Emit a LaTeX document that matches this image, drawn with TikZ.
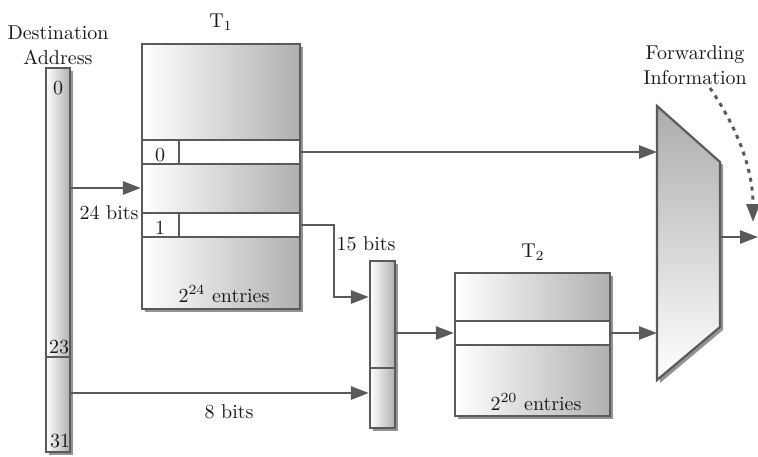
\documentclass[tikz,border=0pt]{standalone}
\usetikzlibrary{arrows.meta,shadows}
\definecolor{lc}{HTML}{5A5A5A}
\begin{document}
\begin{tikzpicture}[x=0.5pt,y=-0.5pt,
  arr/.style={lc, line width=1.3pt, -{Triangle[length=9pt,width=6.5pt]}},
  tbl/.style={draw=lc, line width=1.1pt, inner sep=0pt, left color=white, right color=gray!62,
    drop shadow={shadow xshift=1.6pt, shadow yshift=-1.6pt, fill=gray!85, opacity=1}},
  rowbox/.style={draw=lc, line width=1.1pt, fill=white, inner sep=0pt},
  lbl/.style={font=\fontsize{10}{12.5}\selectfont, inner sep=0pt, text=black!90, align=center},
]
\useasboundingbox (0,0) rectangle (758,456);

% Destination address bar
\node[tbl, minimum width=12pt, minimum height=192pt] (addr) at (58,260) {};
\draw[lc, line width=1.1pt] (addr.west |- 0,357) -- (addr.east |- 0,357);
\node[lbl] (dst) at (58,45) {Destination\\Address};
\node[lbl] (a0) at (58,88) {0};
\node[lbl] (a23) at (59,347) {23};
\node[lbl] (a31) at (60,441) {31};

% Table T1
\node[tbl, minimum width=79pt, minimum height=132.5pt] (T1) at (221,176.5) {};
\node[rowbox, minimum width=79pt, minimum height=12pt] (r0) at (221,152) {};
\node[rowbox, minimum width=79pt, minimum height=12pt] (r1) at (221,225) {};
\draw[lc, line width=1.1pt] (179,140) -- (179,164);
\draw[lc, line width=1.1pt] (179,213) -- (179,237);
\node[lbl] (l0) at (160,155) {0};
\node[lbl] (l1) at (160,228) {1};
\node[lbl] (t1lab) at (221,22) {$\mathrm{T}_1$};
\node[lbl] (t1ent) at (224,294) {$2^{24}$ entries};

% Small concatenation bar
\node[tbl, minimum width=12.5pt, minimum height=83.5pt] (sb) at (382.5,344.5) {};
\draw[lc, line width=1.1pt] (sb.west |- 0,368) -- (sb.east |- 0,368);

% Table T2
\node[tbl, minimum width=77.5pt, minimum height=71.5pt] (T2) at (532.5,344.5) {};
\node[rowbox, minimum width=77.5pt, minimum height=12pt] (r2) at (532.5,333) {};
\node[lbl] (t2lab) at (533,252) {$\mathrm{T}_2$};
\node[lbl] (t2ent) at (536,402) {$2^{20}$ entries};

% Multiplexer
\fill[gray!85] (660,109) -- (723,165) -- (723,330) -- (660,383) -- cycle;
\path[draw=lc, line width=1.1pt, top color=gray!65, bottom color=white]
  (657,106) -- (720,162) -- (720,327) -- (657,380) -- cycle;
\coordinate (m1) at (657,152);
\coordinate (m2) at (657,333);
\coordinate (mo) at (720,237);
\coordinate (fo) at (758,237);
\coordinate (fi) at (753,222);

\node[lbl] (fwd) at (695,65) {Forwarding\\Information};

% Connectors
\draw[arr] (addr.east |- 0,188) -- (T1.west |- 0,188);
\node[lbl] (b24) at (109,213) {24 bits};
\draw[arr] (r0.east) -- (m1);
\draw[arr] (r1.east) -- (334,225) -- (334,297) -- (sb.west |- 0,297);
\node[lbl] (b15) at (366,244) {15 bits};
\draw[arr] (addr.east |- 0,393) -- (sb.west |- 0,393);
\node[lbl] (b8) at (229,412) {8 bits};
\draw[arr] (sb.east |- r2.west) -- (r2.west);
\draw[arr] (r2.east) -- (m2);
\draw[arr] (mo) -- (fo);
\draw[lc, line width=1.5pt, dash pattern=on 2pt off 2.5pt, -{Triangle[length=9pt,width=6.5pt]}]
  (710,88) .. controls (742,135) and (753,175) .. (fi);
\end{tikzpicture}
\end{document}
